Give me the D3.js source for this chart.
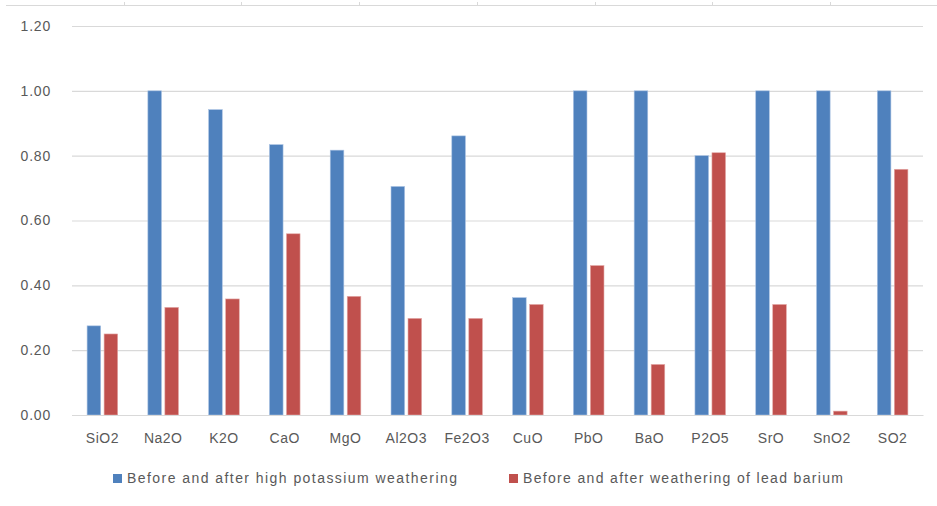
<!DOCTYPE html>
<html>
<head>
<meta charset="utf-8">
<script src="https://cdn.jsdelivr.net/npm/d3@7"></script>
<style>
  html, body { margin: 0; padding: 0; background: #fff; }
  svg { display: block; }
  text { font-family: "Liberation Sans", "DejaVu Sans", sans-serif; fill: #595959; }
</style>
</head>
<body>
<svg id="chart" width="937" height="506"></svg>
<script>
// Oxide categories and the ratio series for each glass type
const categories = ["SiO2", "Na2O", "K2O", "CaO", "MgO", "Al2O3", "Fe2O3", "CuO", "PbO", "BaO", "P2O5", "SrO", "SnO2", "SO2"];
const highPotassium = [0.275, 1.00, 0.942, 0.834, 0.817, 0.705, 0.861, 0.362, 1.00, 1.00, 0.80, 1.00, 1.00, 1.00];
const leadBarium = [0.250, 0.332, 0.358, 0.559, 0.366, 0.298, 0.298, 0.341, 0.461, 0.156, 0.809, 0.341, 0.012, 0.758];
const seriesNames = ["Before and after high potassium weathering", "Before and after weathering of lead barium"];
const seriesColors = ["#4f81bd", "#c0504d"];
const yTicks = [0, 0.2, 0.4, 0.6, 0.8, 1.0, 1.2];
// Strip of an axis along the top edge (tick positions by index)
const topStripTicks = [1, 2, 3, 4, 5, 6, 7];

const svg = d3.select("#chart");
const W = 937, H = 506;
const plot = { left: 72, right: 923, top: 26, bottom: 415 };

const x = d3.scaleBand().domain(categories).range([plot.left, plot.right]).paddingInner(0).paddingOuter(0);
const y = d3.scaleLinear().domain([0, 1.2]).range([plot.bottom, plot.top]);

// top strip axis line with small upward ticks
const xs = d3.scaleLinear().domain([0, 8]).range([6, 6 + 8 * 117.7]);
svg.append("line")
  .attr("x1", 6).attr("x2", W).attr("y1", 5.5).attr("y2", 5.5)
  .attr("stroke", "#d9d9d9").attr("stroke-width", 1);
svg.append("g").selectAll("line").data(topStripTicks).join("line")
  .attr("x1", d => Math.round(xs(d)) + 0.5).attr("x2", d => Math.round(xs(d)) + 0.5)
  .attr("y1", 2).attr("y2", 5.5)
  .attr("stroke", "#d9d9d9").attr("stroke-width", 1);

// horizontal gridlines and y tick labels
const yAxis = d3.axisLeft(y).tickValues(yTicks).tickFormat(d3.format(".2f")).tickSize(-(plot.right - plot.left)).tickPadding(21);
const gy = svg.append("g").attr("transform", `translate(${plot.left},0)`).call(yAxis);
gy.select(".domain").remove();
gy.selectAll(".tick line").attr("stroke", "#d9d9d9").attr("stroke-width", 1.2);
gy.selectAll(".tick text")
  .attr("font-size", 14).attr("fill", "#595959")
  .style("letter-spacing", "0.8px")
  .attr("font-family", "Liberation Sans, sans-serif");

// bars
const barW = 13.6, gap = 3.4;
const groupW = barW * 2 + gap;
const series = [highPotassium, leadBarium];
series.forEach((vals, si) => {
  svg.append("g").selectAll("rect").data(categories).join("rect")
    .attr("x", (c) => x(c) + x.bandwidth() / 2 - groupW / 2 + si * (barW + gap))
    .attr("y", (c, i) => y(vals[i]))
    .attr("width", barW)
    .attr("height", (c, i) => y(0) - y(vals[i]))
    .attr("fill", seriesColors[si])
    .attr("stroke", si === 0 ? "#a9c2e3" : "#e3a9a7")
    .attr("stroke-width", 0.6);
});

// category labels along the baseline
const xAxis = d3.axisBottom(x).tickSize(0).tickPadding(18);
const gx = svg.append("g").attr("transform", `translate(0,${plot.bottom})`).call(xAxis);
gx.select(".domain").attr("stroke", "#d9d9d9").attr("stroke-width", 1.2);
gx.selectAll(".tick text")
  .attr("font-size", 14).attr("fill", "#595959")
  .style("letter-spacing", "0.5px")
  .attr("font-family", "Liberation Sans, sans-serif");

// legend
const legendItems = [
  { sx: 113, tx: 127, tw: 330 },
  { sx: 509, tx: 523, tw: 320 }
];
const lg = svg.append("g");
seriesNames.forEach((name, i) => {
  lg.append("rect")
    .attr("x", legendItems[i].sx).attr("y", 474)
    .attr("width", 9).attr("height", 9)
    .attr("fill", seriesColors[i]);
  lg.append("text")
    .attr("x", legendItems[i].tx).attr("y", 483)
    .attr("font-size", 14)
    .attr("textLength", legendItems[i].tw)
    .attr("lengthAdjust", "spacing")
    .text(name);
});
</script>
</body>
</html>
